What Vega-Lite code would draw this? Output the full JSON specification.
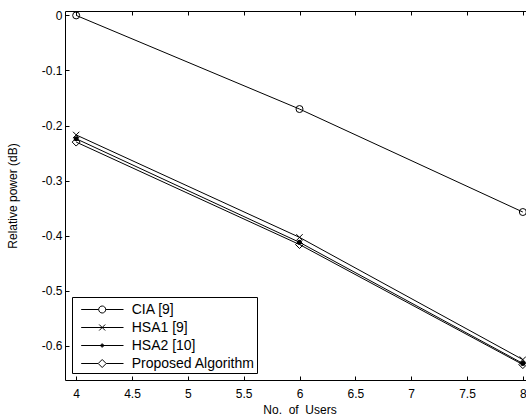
{
  "$schema": "https://vega.github.io/schema/vega-lite/v6.json",
  "width": 469,
  "height": 369,
  "autosize": {"type": "none"},
  "padding": {"left": 65, "top": 11, "right": 0, "bottom": 37},
  "background": "white",
  "config": {
    "view": {"stroke": "black", "strokeWidth": 1},
    "font": "Liberation Sans",
    "axis": {
      "labelFont": "Liberation Sans",
      "titleFont": "Liberation Sans",
      "labelColor": "black",
      "titleColor": "black",
      "labelFontSize": 12,
      "titleFontSize": 12,
      "titleFontWeight": "normal",
      "grid": false,
      "domain": false,
      "ticks": true,
      "tickColor": "black",
      "tickWidth": 1,
      "tickSize": 4,
      "offset": -4,
      "labelPadding": 3,
      "zindex": 1
    }
  },
  "data": {
    "values": [
      {"users": 4, "power": 0.0, "series": "CIA [9]"},
      {"users": 6, "power": -0.170, "series": "CIA [9]"},
      {"users": 8, "power": -0.357, "series": "CIA [9]"},
      {"users": 4, "power": -0.217, "series": "HSA1 [9]"},
      {"users": 6, "power": -0.403, "series": "HSA1 [9]"},
      {"users": 8, "power": -0.625, "series": "HSA1 [9]"},
      {"users": 4, "power": -0.224, "series": "HSA2 [10]"},
      {"users": 6, "power": -0.412, "series": "HSA2 [10]"},
      {"users": 8, "power": -0.632, "series": "HSA2 [10]"},
      {"users": 4, "power": -0.230, "series": "Proposed Algorithm"},
      {"users": 6, "power": -0.416, "series": "Proposed Algorithm"},
      {"users": 8, "power": -0.634, "series": "Proposed Algorithm"}
    ]
  },
  "resolve": {"axis": {"x": "independent"}},
  "layer": [
    {
      "mark": {"type": "line", "color": "black", "strokeWidth": 1},
      "encoding": {
        "x": {"field": "users", "type": "quantitative",
              "scale": {"domain": [3.9, 8.1], "nice": false, "zero": false},
              "axis": {"orient": "bottom", "values": [4, 4.5, 5, 5.5, 6, 6.5, 7, 7.5, 8],
                       "labelExpr": "'' + datum.value", "title": "No.\u00a0 of\u00a0 Users", "titlePadding": 5, "labelPadding": 8}},
        "y": {"field": "power", "type": "quantitative",
              "scale": {"domain": [-0.662, 0.008], "nice": false, "zero": false},
              "axis": {"values": [-0.6, -0.5, -0.4, -0.3, -0.2, -0.1, 0],
                       "labelExpr": "'' + datum.value", "title": "Relative power (dB)", "titlePadding": 22}},
        "detail": {"field": "series"}
      }
    },
    {
      "transform": [{"filter": "datum.series == 'CIA [9]'"}],
      "mark": {"type": "point", "shape": "circle", "filled": false, "color": "black", "size": 49, "strokeWidth": 1, "opacity": 1},
      "encoding": {
        "x": {"field": "users", "type": "quantitative", "axis": null},
        "y": {"field": "power", "type": "quantitative"}
      }
    },
    {
      "transform": [{"filter": "datum.series == 'HSA1 [9]'"}],
      "mark": {"type": "point", "shape": "M-1,-1L1,1M-1,1L1,-1", "filled": false, "color": "black", "size": 40, "strokeWidth": 1, "opacity": 1},
      "encoding": {
        "x": {"field": "users", "type": "quantitative", "axis": null},
        "y": {"field": "power", "type": "quantitative"}
      }
    },
    {
      "transform": [{"filter": "datum.series == 'HSA2 [10]'"}],
      "mark": {"type": "point", "shape": "circle", "filled": true, "color": "black", "size": 25, "opacity": 1},
      "encoding": {
        "x": {"field": "users", "type": "quantitative", "axis": null},
        "y": {"field": "power", "type": "quantitative"}
      }
    },
    {
      "transform": [{"filter": "datum.series == 'Proposed Algorithm'"}],
      "mark": {"type": "point", "shape": "diamond", "filled": false, "color": "black", "size": 64, "strokeWidth": 1, "opacity": 1},
      "encoding": {
        "x": {"field": "users", "type": "quantitative", "axis": null},
        "y": {"field": "power", "type": "quantitative"}
      }
    },
    {
      "mark": {"type": "point", "filled": false, "color": "black", "opacity": 0},
      "encoding": {
        "x": {"field": "users", "type": "quantitative",
              "axis": {"orient": "top", "values": [4, 4.5, 5, 5.5, 6, 6.5, 7, 7.5, 8], "labels": false, "title": null}},
        "y": {"field": "power", "type": "quantitative"},
        "shape": {
          "field": "series", "type": "nominal",
          "scale": {
            "domain": ["CIA [9]", "HSA1 [9]", "HSA2 [10]", "Proposed Algorithm"],
            "range": [
              "M-0.33,0L1.42,0M2.12,0L3.9,0M2.12,0A0.35,0.35,0,1,1,1.42,0A0.35,0.35,0,1,1,2.12,0",
              "M-0.33,0L3.9,0M1.47,-0.3L2.07,0.3M1.47,0.3L2.07,-0.3",
              "M-0.33,0L3.9,0M1.92,0A0.15,0.15,0,1,1,1.62,0A0.15,0.15,0,1,1,1.92,0M1.87,0A0.1,0.1,0,1,1,1.67,0A0.1,0.1,0,1,1,1.87,0",
              "M-0.33,0L1.37,0M2.17,0L3.9,0M1.37,0L1.77,-0.4L2.17,0L1.77,0.4Z"
            ]
          },
          "legend": {
            "title": null,
            "orient": "bottom-left",
            "offset": 7,
            "padding": 2,
            "rowPadding": 0,
            "symbolSize": 400,
            "symbolOpacity": 1,
            "symbolStrokeColor": "black",
            "symbolFillColor": "transparent",
            "symbolStrokeWidth": 1,
            "labelOffset": 36.7,
            "labelFont": "Liberation Sans",
            "labelFontSize": 14,
            "labelColor": "black",
            "labelLimit": 300,
            "strokeColor": "black",
            "fillColor": "white"
          }
        }
      }
    }
  ]
}
